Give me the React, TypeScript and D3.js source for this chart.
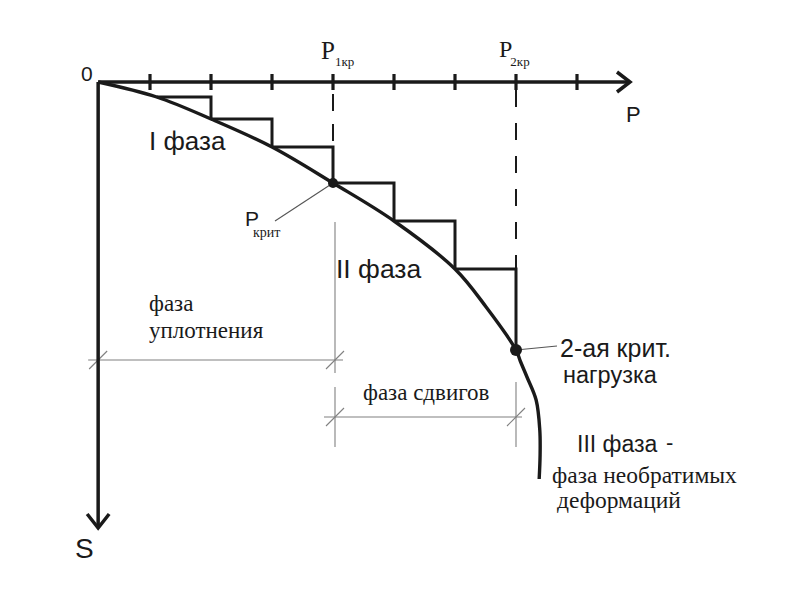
import React, { useEffect } from "react";
import * as d3 from "d3";

// ---- data ----
const P_TICKS = [1, 2, 3, 4, 5, 6, 7, 8];
const P_ORIGIN = 0.15;
const P_MAX = 9.0;
const S_MAX = 44.6;
const CURVE_P = [0.15, 1.11, 2, 3, 4, 5, 6, 6.51, 7, 7.07, 7.18, 7.33, 7.39, 7.395, 7.38];
const CURVE_S = [0, 1.5, 3.7, 6.5, 10.1, 13.9, 18.7, 22.5, 26.8, 27.9, 29.5, 31.8, 34.8, 37.3, 39.7];
const STEP_FROM = [1, 2, 3, 4, 5, 6]; // curve points that start a load step
const STEP_TO = [2, 3, 4, 5, 6, 8]; // curve points that end it
const P1_INDEX = 4;
const P2_INDEX = 8;
const DIM_COMPACT_S = 27.8;
const DIM_SHEAR_S = 33.5;

const W = 800;
const H = 600;

export default function App() {
  useEffect(() => {
    document.body.style.margin = "0";
  }, []);

  const x = d3.scaleLinear().domain([0, 1]).range([89, 150]);
  const y = d3.scaleLinear().domain([0, 10]).range([82, 182]);

  const x0 = x(P_ORIGIN);
  const y0 = y(0);
  const xEnd = x(P_MAX) - 8;
  const yEnd = y(S_MAX);

  const pts: [number, number][] = CURVE_P.map((p, i) => [x(p), y(CURVE_S[i])]);
  const curvePath = d3.line().curve(d3.curveCatmullRom.alpha(0.5))(pts) || "";

  const stepPath = STEP_FROM.map((i, k) => {
    const j = STEP_TO[k];
    const p = d3.path();
    p.moveTo(x(CURVE_P[i]), y(CURVE_S[i]));
    p.lineTo(x(CURVE_P[j]), y(CURVE_S[i]));
    p.lineTo(x(CURVE_P[j]), y(CURVE_S[j]));
    return p.toString();
  }).join(" ");

  const p1x = x(CURVE_P[P1_INDEX]);
  const p1y = y(CURVE_S[P1_INDEX]);
  const p2x = x(CURVE_P[P2_INDEX]);
  const p2y = y(CURVE_S[P2_INDEX]);

  const dimY1 = y(DIM_COMPACT_S);
  const dimY2 = y(DIM_SHEAR_S);

  const thin = { stroke: "#808080", strokeWidth: 1.1, fill: "none" } as const;
  const slash = (cx: number, cy: number) => (
    <line x1={cx - 9} y1={cy + 9} x2={cx + 9} y2={cy - 9} {...thin} />
  );

  const sans = "'Liberation Sans', Arial, sans-serif";
  const serif = "'Liberation Serif', 'Times New Roman', serif";
  const ink = "#1a1a1a";

  return (
    <svg width={W} height={H} style={{ display: "block", background: "#fff" }}>
      {/* dashed guides */}
      <line x1={p1x} y1={y0 + 12} x2={p1x} y2={y(CURVE_S[P1_INDEX - 1])} stroke={ink} strokeWidth={2} strokeDasharray="17,13" />
      <line x1={p2x} y1={y0 + 8} x2={p2x} y2={y(CURVE_S[6])} stroke={ink} strokeWidth={2} strokeDasharray="17,16" />

      {/* dimension lines */}
      <line x1={p1x + 2} y1={y(14)} x2={p1x + 2} y2={y(29.1)} {...thin} />
      <line x1={p1x + 2} y1={y(30.5)} x2={p1x + 2} y2={y(36.5)} {...thin} />
      <line x1={p2x} y1={y(30)} x2={p2x} y2={y(36.5)} {...thin} />
      <line x1={x0 - 10} y1={dimY1} x2={p1x + 10} y2={dimY1} {...thin} />
      <line x1={p1x - 9} y1={dimY2} x2={p2x + 6} y2={dimY2} {...thin} />
      {slash(x0, dimY1)}
      {slash(p1x + 2, dimY1)}
      {slash(p1x + 2, dimY2)}
      {slash(p2x, dimY2)}

      {/* leaders */}
      <line x1={p1x} y1={p1y} x2={275} y2={221} {...thin} stroke="#555" />
      <line x1={p2x} y1={p2y} x2={557} y2={346} {...thin} stroke="#555" />

      {/* axes */}
      <line x1={x0} y1={y0} x2={xEnd} y2={y0} stroke={ink} strokeWidth={3.5} />
      <polyline points={`${xEnd - 13},${y0 - 10} ${xEnd},${y0} ${xEnd - 13},${y0 + 10}`} fill="none" stroke={ink} strokeWidth={3.5} />
      <line x1={x0} y1={y0} x2={x0} y2={yEnd} stroke={ink} strokeWidth={3.5} />
      <polyline points={`${x0 - 11},${yEnd - 14} ${x0},${yEnd} ${x0 + 11},${yEnd - 14}`} fill="none" stroke={ink} strokeWidth={3.5} />
      {P_TICKS.map((t) => (
        <line key={t} x1={x(t)} y1={y0 - 8} x2={x(t)} y2={y0 + 8} stroke={ink} strokeWidth={3.2} />
      ))}

      {/* steps and curve */}
      <path d={stepPath} fill="none" stroke={ink} strokeWidth={3} strokeLinejoin="miter" />
      <path d={curvePath} fill="none" stroke={ink} strokeWidth={3.4} />
      <circle cx={p1x} cy={p1y} r={5} fill={ink} />
      <circle cx={p2x} cy={p2y} r={6} fill={ink} />

      {/* axis labels */}
      <text x={81} y={81} fontFamily={sans} fontSize={21} fill={ink}>0</text>
      <text x={626} y={122} fontFamily={sans} fontSize={22} fill={ink}>P</text>
      <text x={75} y={558} fontFamily={sans} fontSize={28} fill={ink}>S</text>

      <text x={321} y={59} fontFamily={serif} fontSize={25} fill={ink}>
        P<tspan fontSize={13} dy={7}>1кр</tspan>
      </text>
      <text x={499} y={57} fontFamily={serif} fontSize={24} fill={ink}>
        P<tspan fontSize={13} dy={9} dx={-2}>2кр</tspan>
      </text>

      <text x={245} y={226} fontFamily={sans} fontSize={21} fill={ink}>P</text>
      <text x={253} y={237} fontFamily={serif} fontSize={14} fill={ink}>крит</text>

      {/* phase labels */}
      <text x={149} y={150} fontFamily={sans} fontSize={26} fill={ink}>I фаза</text>
      <text x={336} y={278} fontFamily={sans} fontSize={26.5} fill={ink}>II фаза</text>
      <text x={577} y={452} fontFamily={sans} fontSize={23} fill={ink}>III фаза</text>
      <text x={666} y={450} fontFamily={sans} fontSize={22} fill={ink}>-</text>

      <text x={560} y={357} fontFamily={sans} fontSize={25} fill={ink}>2-ая крит.</text>
      <text x={563} y={383} fontFamily={sans} fontSize={23.5} fill={ink}>нагрузка</text>

      <text x={149} y={311} fontFamily={serif} fontSize={23} fill={ink}>фаза</text>
      <text x={149} y={338} fontFamily={serif} fontSize={23} fill={ink}>уплотнения</text>
      <text x={363} y={400} fontFamily={serif} fontSize={23} fill={ink}>фаза сдвигов</text>
      <text x={552} y={483} fontFamily={serif} fontSize={23.5} fill={ink}>фаза необратимых</text>
      <text x={557} y={508} fontFamily={serif} fontSize={23.5} fill={ink}>деформаций</text>
    </svg>
  );
}
